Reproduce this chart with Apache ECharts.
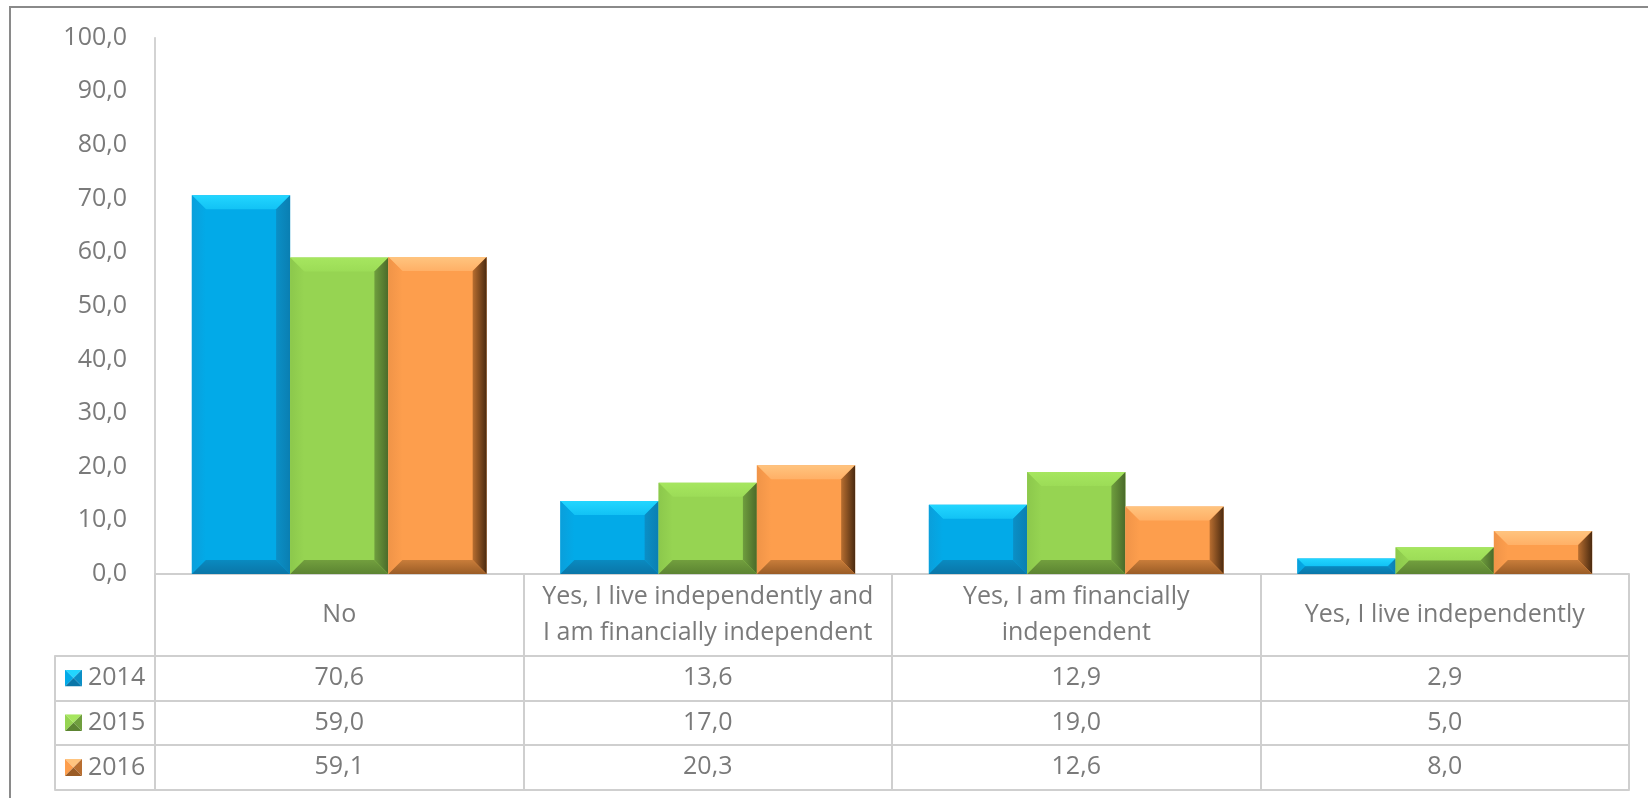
<!DOCTYPE html>
<html>
<head>
<meta charset="utf-8">
<script src="https://cdn.jsdelivr.net/npm/echarts@6/dist/echarts.min.js"></script>
<style>
html,body{margin:0;padding:0;background:#fff;}
#chart{width:1648px;height:798px;}
</style>
</head>
<body>
<div id="chart"></div>
<script>
// ---- data ----
const categories = ['No', 'Yes, I live independently and\nI am financially independent', 'Yes, I am financially\nindependent', 'Yes, I live independently'];
const years = ['2014', '2015', '2016'];
const values2014 = [70.6, 13.6, 12.9, 2.9];
const values2015 = [59.0, 17.0, 19.0, 5.0];
const values2016 = [59.1, 20.3, 12.6, 8.0];
const yMin = 0, yMax = 100, yInterval = 10;

// ---- styles ----
const FONT = 'Open Sans';
const TXT = '#7a7a7a';
const LINE = '#cfcfcf';
const palettes = [
  {face:'#02aae8', top:'#22d6ff', topIn:'#12c2f5', left:'#0a9fdb', right:'#0b8fc6', rightEdge:'#0a7fb2', bottom:'#0a8ac0', bottomEdge:'#0a76a8'},
  {face:'#96d452', top:'#a6e65f', topIn:'#9cdc57', left:'#8cc84c', right:'#6f9e3e', rightEdge:'#4a6a2a', bottom:'#729f3e', bottomEdge:'#5c8432'},
  {face:'#fd9e4d', top:'#ffc47f', topIn:'#ffb066', left:'#f09448', right:'#b86e30', rightEdge:'#4a2a10', bottom:'#c97d3a', bottomEdge:'#9a5c26'}
];
const seriesValues = [values2014, values2015, values2016];
const fmt = v => Number(v).toFixed(1).replace('.', ',');

function iconSvg(p){
  const svg = `<svg xmlns="http://www.w3.org/2000/svg" width="17" height="17" viewBox="0 0 17 17">
<polygon points="0,0 17,0 8.5,8.5" fill="${p.top}"/>
<polygon points="0,0 8.5,8.5 0,17" fill="${p.face}"/>
<polygon points="17,0 17,17 8.5,8.5" fill="${p.right}"/>
<polygon points="0,17 8.5,8.5 17,17" fill="${p.bottomEdge}"/></svg>`;
  return 'image://data:image/svg+xml;charset=utf-8,' + encodeURIComponent(svg);
}

function lg(x,y,x2,y2,c1,c2){
  return {type:'linear', x:x, y:y, x2:x2, y2:y2, colorStops:[{offset:0,color:c1},{offset:1,color:c2}]};
}

function makeRender(s){
  const p = palettes[s];
  return function(params, api){
    const ci = api.value(0), v = api.value(1);
    const base = api.coord([ci, 0]);
    const topPt = api.coord([ci, v]);
    const band = api.size([1, 0])[0];
    const bw = band * 0.8 / 3;
    const x0 = base[0] - 1.5 * bw + s * bw;
    const x1 = x0 + bw;
    const y0 = topPt[1], y1 = base[1];
    const h = y1 - y0;
    const b = Math.min(14, h / 2, bw / 2);
    return {
      type:'group',
      children:[
        {type:'rect', shape:{x:x0, y:y0, width:bw, height:h}, style:{fill:p.face}},
        {type:'polygon', shape:{points:[[x0,y0],[x1,y0],[x1-b,y0+b],[x0+b,y0+b]]}, style:{fill:lg(0,0,0,1,p.top,p.topIn)}},
        {type:'polygon', shape:{points:[[x0,y0],[x0+b,y0+b],[x0+b,y1-b],[x0,y1]]}, style:{fill:lg(0,0,1,0,p.left,p.face)}},
        {type:'polygon', shape:{points:[[x1,y0],[x1,y1],[x1-b,y1-b],[x1-b,y0+b]]}, style:{fill:lg(0,0,1,0,p.right,p.rightEdge)}},
        {type:'polygon', shape:{points:[[x0,y1],[x0+b,y1-b],[x1-b,y1-b],[x1,y1]]}, style:{fill:lg(0,0,0,1,p.bottom,p.bottomEdge)}}
      ]
    };
  };
}

const GRID_TOP = 37.7, GRID_BOTTOM = 224;
const rowLines = [81.7, 126.3, 171, 215.7]; // offsets from x-axis line (table row boundaries)

const lineStyle = {color: LINE, width: 2};
const txt = {color: TXT, fontSize: 25, fontFamily: FONT};

const xAxes = [];
// category row
xAxes.push({
  type:'category', gridIndex:0, data:categories, position:'bottom', offset:0,
  axisLine:{show:true, onZero:false, lineStyle:lineStyle},
  axisTick:{show:true, interval:0, length:rowLines[0], lineStyle:lineStyle},
  axisLabel:Object.assign({interval:0, margin:41, verticalAlign:'middle', lineHeight:36, align:'center'}, txt),
  splitLine:{show:false}
});
// value rows
for (let r = 0; r < 3; r++){
  const vals = seriesValues[r];
  xAxes.push({
    type:'category', gridIndex:0, data:categories, position:'bottom', offset:rowLines[r],
    axisLine:{show:true, onZero:false, lineStyle:lineStyle},
    axisTick:{show:true, interval:0, length:rowLines[r+1]-rowLines[r], lineStyle:lineStyle},
    axisLabel:Object.assign({interval:0, margin:(rowLines[r+1]-rowLines[r])/2, verticalAlign:'middle',
      formatter:(val, idx) => fmt(vals[idx])}, txt),
    splitLine:{show:false}
  });
}
// bottom line
xAxes.push({
  type:'category', gridIndex:0, data:categories, position:'bottom', offset:rowLines[3],
  axisLine:{show:true, onZero:false, lineStyle:lineStyle}, axisTick:{show:false}, axisLabel:{show:false}, splitLine:{show:false}
});
// legend column (grid 1)
for (let r = 0; r < 4; r++){
  xAxes.push({
    type:'category', gridIndex:1, data:[''], position:'bottom', offset:rowLines[r],
    axisLine:{show:true, onZero:false, lineStyle:lineStyle},
    axisTick:{show:r < 3, interval:0, length:r < 3 ? rowLines[r+1]-rowLines[r] : 0, lineStyle:lineStyle},
    axisLabel:{show:false}, splitLine:{show:false}
  });
}

const series = years.map((y, s) => ({
  name:y, type:'custom', coordinateSystem:'cartesian2d', xAxisIndex:0, yAxisIndex:0,
  renderItem:makeRender(s),
  itemStyle:{color:palettes[s].face},
  encode:{x:0, y:1},
  data:seriesValues[s].map((v, i) => [i, v])
}));

const chart = echarts.init(document.getElementById('chart'), null, {renderer:'canvas'});
chart.setOption({
  animation:false,
  backgroundColor:'#fff',
  grid:[
    {left:155, right:19, top:GRID_TOP, bottom:GRID_BOTTOM, containLabel:false},
    {left:55, width:100, top:GRID_TOP, bottom:GRID_BOTTOM, containLabel:false}
  ],
  xAxis:xAxes,
  yAxis:[
    {type:'value', gridIndex:0, min:yMin, max:yMax, interval:yInterval,
     axisLine:{show:true, lineStyle:{color:'#c4c4c4', width:1.5}},
     axisTick:{show:false}, splitLine:{show:false},
     axisLabel:Object.assign({margin:28, formatter:v => fmt(v)}, txt)},
    {type:'value', gridIndex:1, min:0, max:1, show:false}
  ],
  legend:{
    orient:'vertical', left:65, top:663, padding:0, itemGap:14.7,
    itemWidth:17, itemHeight:17, selectedMode:false,
    data:years.map((y, s) => ({name:y, icon:iconSvg(palettes[s])})),
    textStyle:Object.assign({lineHeight:30, padding:[0,0,0,1]}, txt)
  },
  graphic:[
    {type:'rect', shape:{x:10, y:7, width:1700, height:900}, style:{fill:'none', stroke:'#8a8a8a', lineWidth:2}, silent:true, z:100}
  ],
  series:series
});
</script>
</body>
</html>
